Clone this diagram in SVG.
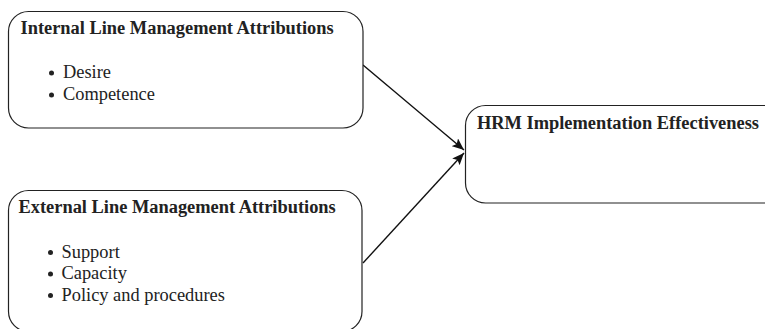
<svg xmlns="http://www.w3.org/2000/svg" width="765" height="329" viewBox="0 0 765 329">
<defs>
<style>
.box{fill:#fff;stroke:#222;stroke-width:1.2}
.t{font-family:"Liberation Serif","Times New Roman",serif;font-size:18.4px;fill:#222}
.b{font-weight:bold}
.c{stroke:#111;stroke-width:1.4;fill:none}
.dot{fill:#222}
</style>
<marker id="ah" viewBox="0 0 12 10" refX="12" refY="5" markerWidth="12" markerHeight="10" markerUnits="userSpaceOnUse" orient="auto"><path d="M0,0 L12,5 L0,10 L2.5,5 Z" fill="#111"/></marker>
</defs>
<rect width="765" height="329" fill="#fff"/>
<g id="connectors">
<line class="c" x1="363" y1="65" x2="464" y2="150" marker-end="url(#ah)"/>
<line class="c" x1="363" y1="263" x2="464" y2="153" marker-end="url(#ah)"/>
</g>
<g id="internal">
<rect class="box" x="8.5" y="11.5" width="354.5" height="116.5" rx="20"/>
<text class="t b" x="20.5" y="33.5">Internal Line Management Attributions</text>
<circle class="dot" cx="51.5" cy="73" r="2.5"/><text class="t" x="63" y="78">Desire</text>
<circle class="dot" cx="51.5" cy="95" r="2.5"/><text class="t" x="63" y="100">Competence</text>
</g>
<g id="external">
<rect class="box" x="8.5" y="190.5" width="353.5" height="141" rx="20"/>
<text class="t b" x="18.5" y="212.5">External Line Management Attributions</text>
<circle class="dot" cx="50.5" cy="252.5" r="2.5"/><text class="t" x="61.5" y="257.5">Support</text>
<circle class="dot" cx="50.5" cy="274" r="2.5"/><text class="t" x="61.5" y="279">Capacity</text>
<circle class="dot" cx="50.5" cy="295.5" r="2.5"/><text class="t" x="61.5" y="300.5">Policy and procedures</text>
</g>
<g id="hrm">
<rect class="box" x="465.5" y="105.5" width="320" height="97.5" rx="20"/>
<text class="t b" x="477" y="128.5">HRM Implementation Effectiveness</text>
</g>
</svg>
